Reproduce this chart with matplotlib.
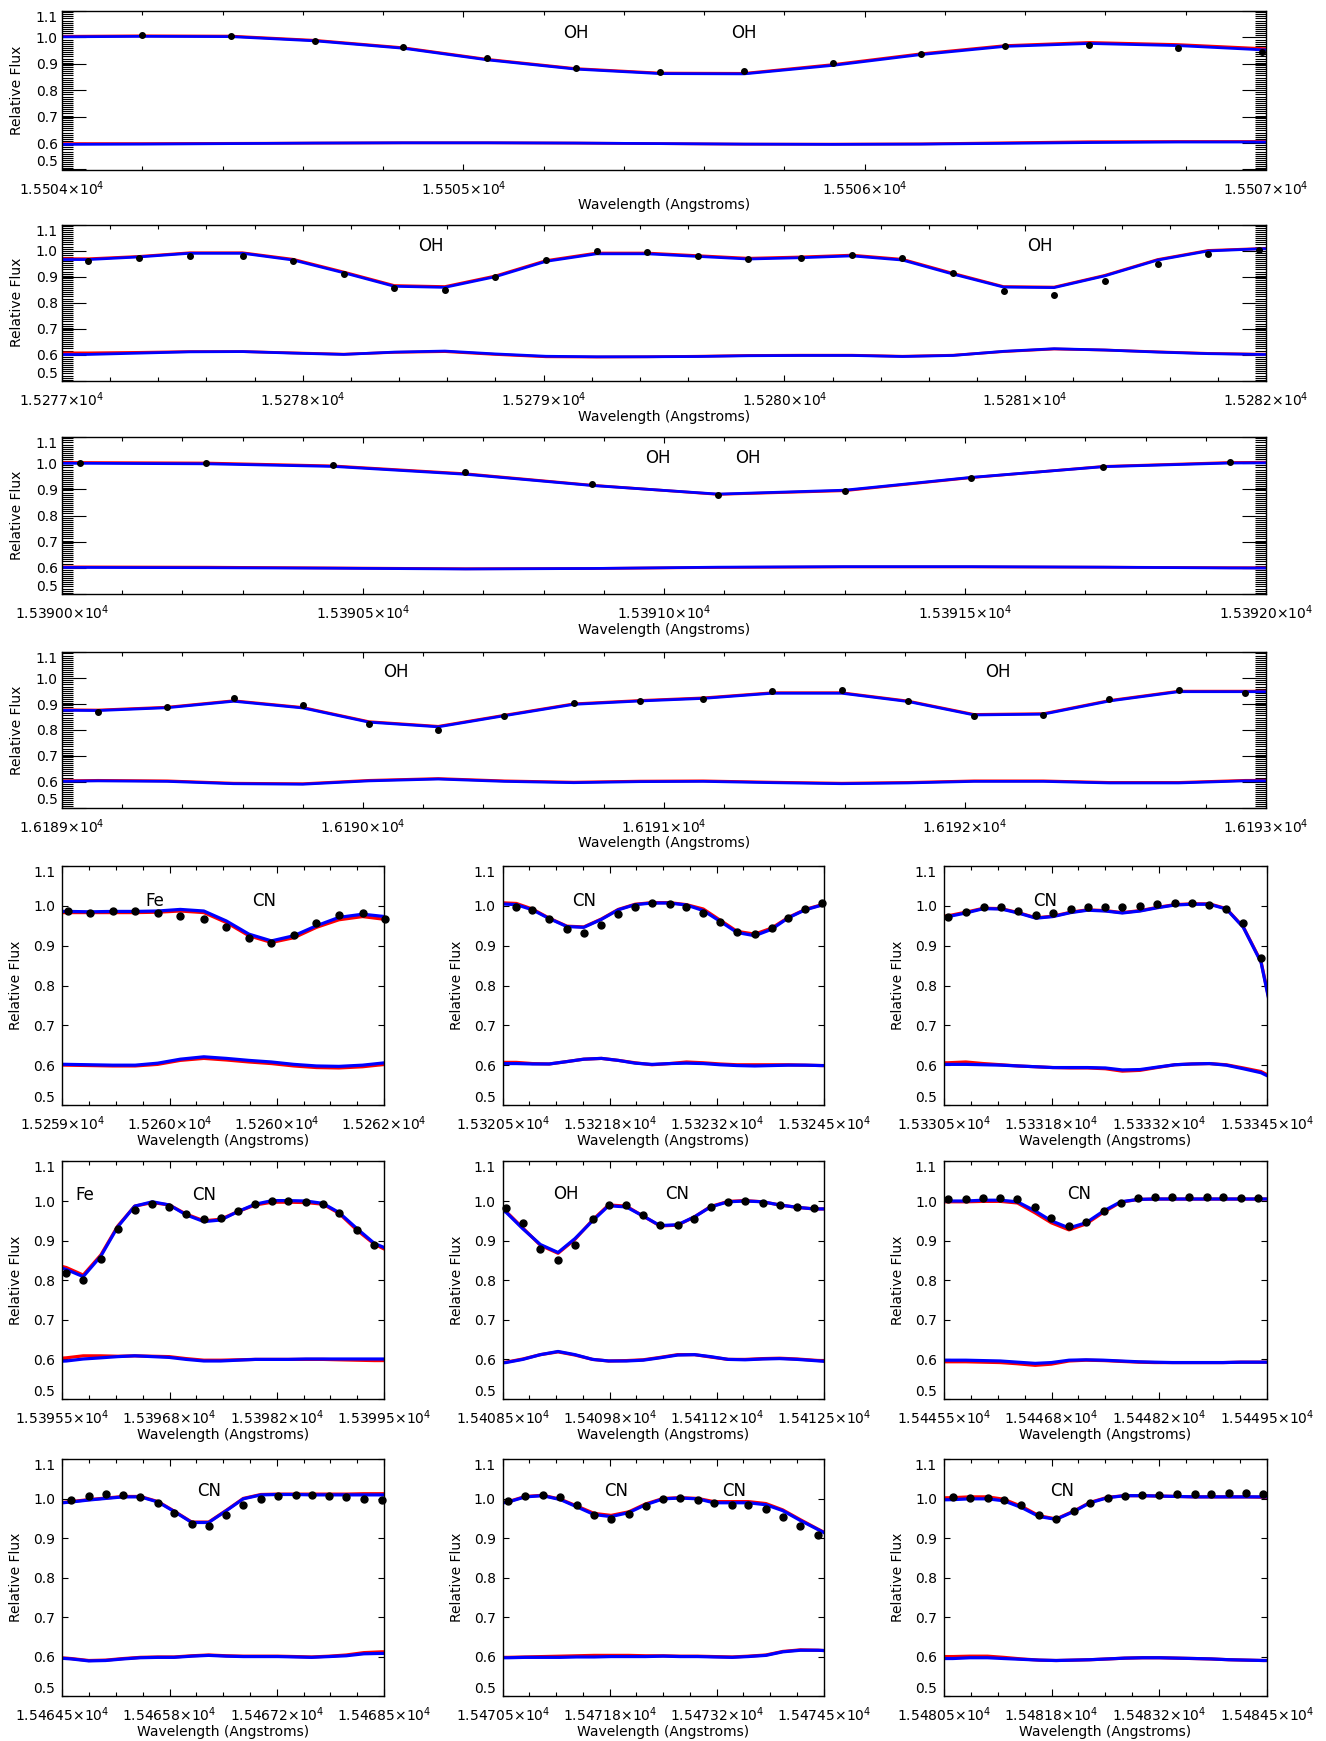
import numpy as np
import matplotlib
matplotlib.use('Agg')
from matplotlib import pyplot as plt
from matplotlib.ticker import MultipleLocator, AutoMinorLocator

plt.rcParams['font.family'] = ['DejaVu Sans']
plt.rcParams['font.size'] = 10
plt.rcParams['mathtext.fontset'] = 'dejavusans'

nan = np.nan
W, H = 1326, 1741

# ---------------- wide panels ----------------
w1_wl = [15503.98, 15504.20, 15504.42, 15504.63, 15504.85, 15505.06, 15505.28, 15505.49,
         15505.70, 15505.92, 15506.14, 15506.35, 15506.56, 15506.78, 15506.99, 15507.21]
w1_obs = [nan, 1.009, 1.004, 0.988, 0.962, 0.922, 0.884, 0.869, 0.874, 0.903, 0.939, 0.967,
          0.972, 0.960, 0.943, nan]
w1_red = [1.004, 1.006, 1.005, 0.989, 0.961, 0.917, 0.882, 0.865, 0.864, 0.897, 0.938, 0.969,
          0.981, 0.973, 0.958, 0.954]
w1_blue = [1.002, 1.004, 1.003, 0.987, 0.959, 0.915, 0.880, 0.863, 0.862, 0.894, 0.935, 0.966,
           0.977, 0.969, 0.953, 0.948]
w1_lo_red = [0.598, 0.598, 0.599, 0.600, 0.601, 0.601, 0.600, 0.598, 0.596, 0.596, 0.597, 0.601,
             0.605, 0.606, 0.606, 0.606]
w1_lo_blue = [0.595, 0.596, 0.598, 0.600, 0.601, 0.601, 0.600, 0.598, 0.596, 0.595, 0.596, 0.599,
              0.602, 0.604, 0.604, 0.604]

w2_wl = [15276.90, 15277.11, 15277.32, 15277.53, 15277.75, 15277.96, 15278.17, 15278.38, 15278.59,
         15278.80, 15279.01, 15279.22, 15279.43, 15279.64, 15279.85, 15280.07, 15280.28, 15280.49,
         15280.70, 15280.91, 15281.12, 15281.33, 15281.55, 15281.76, 15281.97, 15282.18]
w2_obs = [nan, 0.962, 0.973, 0.980, 0.978, 0.959, 0.911, 0.855, 0.847, 0.898, 0.964, 0.998, 0.996,
          0.981, 0.969, 0.973, 0.985, 0.971, 0.913, 0.845, 0.830, 0.883, 0.948, 0.988, 1.004, nan]
w2_red = [0.970, 0.969, 0.978, 0.992, 0.992, 0.967, 0.918, 0.866, 0.862, 0.903, 0.962, 0.991, 0.991,
          0.981, 0.971, 0.976, 0.983, 0.967, 0.913, 0.862, 0.860, 0.905, 0.966, 1.001, 1.008, 1.011]
w2_blue = [0.966, 0.966, 0.976, 0.990, 0.990, 0.964, 0.915, 0.863, 0.859, 0.900, 0.959, 0.988, 0.988,
           0.978, 0.968, 0.973, 0.980, 0.964, 0.910, 0.860, 0.858, 0.903, 0.964, 0.999, 1.007, 1.010]
w2_lo_red = [0.607, 0.607, 0.609, 0.612, 0.612, 0.607, 0.602, 0.609, 0.612, 0.601, 0.592, 0.591, 0.592,
             0.594, 0.597, 0.598, 0.598, 0.594, 0.598, 0.612, 0.622, 0.618, 0.611, 0.605, 0.602, 0.601]
w2_lo_blue = [0.600, 0.601, 0.606, 0.611, 0.612, 0.606, 0.601, 0.610, 0.614, 0.603, 0.594, 0.592, 0.592,
              0.593, 0.596, 0.597, 0.597, 0.593, 0.597, 0.613, 0.623, 0.618, 0.610, 0.604, 0.601, 0.600]

w3_wl = [15389.82, 15390.03, 15390.24, 15390.45, 15390.67, 15390.88, 15391.09, 15391.30,
         15391.51, 15391.73, 15391.94, 15392.15]
w3_obs = [nan, 1.000, 1.000, 0.995, 0.966, 0.920, 0.879, 0.893, 0.944, 0.987, 1.006, nan]
w3_red = [1.003, 1.003, 1.001, 0.990, 0.960, 0.916, 0.881, 0.895, 0.945, 0.988, 1.003, 1.006]
w3_blue = [1.000, 1.000, 0.998, 0.988, 0.958, 0.915, 0.882, 0.897, 0.946, 0.987, 1.001, 1.004]
w3_lo_red = [0.603, 0.603, 0.602, 0.599, 0.596, 0.597, 0.601, 0.603, 0.603, 0.602, 0.600, 0.599]
w3_lo_blue = [0.601, 0.601, 0.600, 0.598, 0.595, 0.597, 0.602, 0.604, 0.604, 0.602, 0.599, 0.598]

w4_wl = [16188.90, 16189.12, 16189.35, 16189.57, 16189.80, 16190.02, 16190.25, 16190.47, 16190.70,
         16190.92, 16191.13, 16191.36, 16191.59, 16191.81, 16192.03, 16192.26, 16192.48, 16192.71,
         16192.93, 16193.15]
w4_obs = [nan, 0.871, 0.889, 0.923, 0.897, 0.822, 0.800, 0.854, 0.906, 0.912, 0.920, 0.951, 0.954,
          0.912, 0.854, 0.858, 0.920, 0.956, 0.943, nan]
w4_red = [0.879, 0.877, 0.888, 0.913, 0.887, 0.832, 0.814, 0.857, 0.901, 0.914, 0.924, 0.944, 0.944,
          0.912, 0.860, 0.863, 0.914, 0.950, 0.950, 0.950]
w4_blue = [0.877, 0.875, 0.886, 0.911, 0.885, 0.830, 0.812, 0.855, 0.899, 0.912, 0.922, 0.942, 0.942,
           0.910, 0.858, 0.861, 0.912, 0.948, 0.948, 0.948]
w4_lo_red = [0.602, 0.605, 0.603, 0.594, 0.592, 0.605, 0.612, 0.603, 0.598, 0.602, 0.603, 0.598, 0.594,
             0.597, 0.603, 0.603, 0.597, 0.597, 0.605, 0.606]
w4_lo_blue = [0.600, 0.603, 0.601, 0.592, 0.590, 0.603, 0.610, 0.601, 0.596, 0.600, 0.601, 0.596, 0.592,
              0.595, 0.601, 0.601, 0.595, 0.595, 0.603, 0.604]

# ---------------- small panels ----------------
s1_wl = [15258.84, 15259.05, 15259.26, 15259.47, 15259.68, 15259.89, 15260.10, 15260.32, 15260.53,
         15260.74, 15260.95, 15261.16, 15261.37, 15261.58, 15261.80, 15262.01]
s1_obs = [nan, 0.986, 0.983, 0.986, 0.986, 0.981, 0.975, 0.966, 0.946, 0.918, 0.906, 0.926, 0.958,
          0.978, 0.982, 0.966]
s1_red = [0.983, 0.983, 0.983, 0.983, 0.983, 0.984, 0.987, 0.983, 0.958, 0.925, 0.908, 0.920, 0.946,
          0.965, 0.973, 0.966]
s1_blue = [0.986, 0.986, 0.985, 0.986, 0.986, 0.987, 0.991, 0.987, 0.962, 0.929, 0.912, 0.925, 0.950,
           0.971, 0.979, 0.973]
s1_lo_red = [0.601, 0.600, 0.599, 0.598, 0.598, 0.602, 0.612, 0.617, 0.613, 0.608, 0.604, 0.598, 0.594,
             0.593, 0.596, 0.602]
s1_lo_blue = [0.603, 0.602, 0.601, 0.600, 0.600, 0.605, 0.615, 0.621, 0.617, 0.612, 0.608, 0.602, 0.598,
              0.597, 0.600, 0.606]

s2_wl = [15320.45, 15320.67, 15320.87, 15321.08, 15321.30, 15321.51, 15321.73, 15321.94, 15322.15,
         15322.36, 15322.58, 15322.79, 15323.00, 15323.21, 15323.42, 15323.64, 15323.85, 15324.06,
         15324.27, 15324.48, 15324.70]
s2_obs = [nan, 0.998, 0.989, 0.968, 0.941, 0.933, 0.951, 0.979, 0.998, 1.008, 1.005, 0.997, 0.983,
          0.960, 0.935, 0.930, 0.944, 0.970, 0.993, 1.007, nan]
s2_red = [1.008, 1.006, 0.992, 0.969, 0.949, 0.947, 0.967, 0.991, 1.004, 1.008, 1.008, 1.003, 0.992,
          0.964, 0.936, 0.929, 0.944, 0.971, 0.991, 1.003, 1.009]
s2_blue = [1.005, 1.003, 0.990, 0.968, 0.948, 0.946, 0.966, 0.990, 1.003, 1.007, 1.007, 1.002, 0.988,
           0.961, 0.933, 0.925, 0.941, 0.970, 0.990, 1.002, 1.008]
s2_lo_red = [0.607, 0.607, 0.604, 0.603, 0.609, 0.615, 0.617, 0.612, 0.606, 0.601, 0.604, 0.608, 0.606,
             0.603, 0.601, 0.601, 0.601, 0.601, 0.600, 0.599, 0.599]
s2_lo_blue = [0.604, 0.604, 0.603, 0.603, 0.609, 0.615, 0.617, 0.612, 0.605, 0.602, 0.604, 0.605, 0.604,
              0.601, 0.599, 0.598, 0.599, 0.600, 0.600, 0.599, 0.599]

s3_wl = [15330.34, 15330.55, 15330.77, 15330.99, 15331.21, 15331.42, 15331.64, 15331.85, 15332.07,
         15332.28, 15332.50, 15332.71, 15332.93, 15333.14, 15333.36, 15333.57, 15333.79, 15334.00,
         15334.21, 15334.43, 15334.64]
s3_obs = [nan, 0.972, 0.985, 0.997, 0.997, 0.986, 0.977, 0.982, 0.993, 0.997, 0.997, 0.997, 1.000,
          1.004, 1.006, 1.006, 1.003, 0.993, 0.958, 0.868, nan]
s3_red = [0.972, 0.975, 0.984, 0.994, 0.993, 0.983, 0.970, 0.974, 0.984, 0.990, 0.988, 0.983, 0.988,
          0.996, 1.003, 1.005, 1.005, 0.993, 0.947, 0.860, 0.660]
s3_blue = [0.970, 0.973, 0.982, 0.993, 0.992, 0.982, 0.969, 0.973, 0.983, 0.989, 0.987, 0.982, 0.987,
           0.995, 1.002, 1.004, 1.004, 0.992, 0.946, 0.858, 0.654]
s3_lo_red = [0.606, 0.606, 0.608, 0.604, 0.601, 0.598, 0.596, 0.594, 0.593, 0.593, 0.591, 0.585, 0.587,
             0.594, 0.601, 0.603, 0.604, 0.601, 0.593, 0.584, 0.562]
s3_lo_blue = [0.602, 0.602, 0.602, 0.601, 0.600, 0.598, 0.596, 0.594, 0.594, 0.594, 0.593, 0.588, 0.589,
              0.595, 0.601, 0.603, 0.604, 0.600, 0.591, 0.581, 0.560]

s4_wl = [15395.34, 15395.55, 15395.76, 15395.98, 15396.19, 15396.40, 15396.62, 15396.83, 15397.04,
         15397.26, 15397.47, 15397.68, 15397.90, 15398.11, 15398.31, 15398.53, 15398.74, 15398.94,
         15399.16, 15399.38, 15399.59]
s4_obs = [nan, 0.819, 0.801, 0.853, 0.929, 0.977, 0.992, 0.984, 0.967, 0.954, 0.956, 0.976, 0.992,
          1.001, 1.001, 0.998, 0.992, 0.969, 0.927, 0.889, nan]
s4_red = [0.843, 0.832, 0.813, 0.864, 0.937, 0.987, 0.996, 0.990, 0.967, 0.950, 0.954, 0.973, 0.990,
          0.997, 0.997, 0.996, 0.992, 0.969, 0.927, 0.891, 0.870]
s4_blue = [0.840, 0.827, 0.809, 0.861, 0.935, 0.987, 0.998, 0.990, 0.965, 0.948, 0.952, 0.973, 0.992,
           1.001, 1.001, 1.000, 0.994, 0.971, 0.931, 0.893, 0.875]
s4_lo_red = [0.601, 0.604, 0.609, 0.609, 0.608, 0.609, 0.608, 0.607, 0.602, 0.598, 0.598, 0.599, 0.600,
             0.600, 0.600, 0.600, 0.600, 0.599, 0.598, 0.597, 0.597]
s4_lo_blue = [0.594, 0.596, 0.601, 0.604, 0.607, 0.609, 0.607, 0.605, 0.600, 0.596, 0.596, 0.598, 0.600,
              0.600, 0.600, 0.601, 0.601, 0.601, 0.601, 0.601, 0.601]

s5_wl = [15408.33, 15408.54, 15408.75, 15408.97, 15409.19, 15409.40, 15409.62, 15409.82, 15410.04,
         15410.25, 15410.46, 15410.68, 15410.89, 15411.09, 15411.31, 15411.52, 15411.74, 15411.95,
         15412.17, 15412.38, 15412.59]
s5_obs = [nan, 0.983, 0.945, 0.880, 0.850, 0.890, 0.955, 0.990, 0.990, 0.965, 0.940, 0.940, 0.955,
          0.985, 0.998, 1.000, 0.995, 0.990, 0.985, 0.983, nan]
s5_red = [0.987, 0.974, 0.932, 0.888, 0.868, 0.903, 0.952, 0.990, 0.987, 0.962, 0.937, 0.939, 0.960,
          0.986, 0.999, 1.001, 0.998, 0.990, 0.984, 0.980, 0.980]
s5_blue = [0.985, 0.972, 0.930, 0.890, 0.870, 0.905, 0.950, 0.988, 0.985, 0.962, 0.938, 0.940, 0.960,
           0.985, 0.998, 1.000, 0.998, 0.990, 0.984, 0.980, 0.980]
s5_lo_red = [0.589, 0.593, 0.601, 0.612, 0.619, 0.611, 0.600, 0.596, 0.597, 0.599, 0.605, 0.612, 0.612,
             0.606, 0.600, 0.600, 0.602, 0.603, 0.601, 0.598, 0.595]
s5_lo_blue = [0.588, 0.592, 0.600, 0.612, 0.620, 0.612, 0.600, 0.596, 0.596, 0.598, 0.604, 0.611, 0.612,
              0.607, 0.600, 0.599, 0.601, 0.602, 0.600, 0.597, 0.594]

s6_wl = [15445.34, 15445.55, 15445.77, 15445.98, 15446.20, 15446.41, 15446.63, 15446.83, 15447.05,
         15447.26, 15447.48, 15447.69, 15447.91, 15448.11, 15448.33, 15448.54, 15448.76, 15448.96,
         15449.18, 15449.39, 15449.60]
s6_obs = [nan, 1.005, 1.006, 1.008, 1.008, 1.005, 0.985, 0.957, 0.937, 0.948, 0.976, 0.996, 1.008,
          1.010, 1.010, 1.010, 1.010, 1.010, 1.008, 1.008, nan]
s6_red = [0.997, 0.998, 0.998, 0.999, 0.999, 0.995, 0.970, 0.945, 0.927, 0.942, 0.972, 0.997, 1.004,
          1.005, 1.005, 1.005, 1.005, 1.005, 1.005, 1.005, 1.005]
s6_blue = [1.000, 1.000, 1.000, 1.002, 1.002, 0.998, 0.975, 0.950, 0.932, 0.945, 0.975, 0.998, 1.004,
           1.005, 1.005, 1.005, 1.005, 1.005, 1.005, 1.005, 1.005]
s6_lo_red = [0.594, 0.594, 0.594, 0.593, 0.592, 0.589, 0.585, 0.588, 0.596, 0.598, 0.597, 0.595, 0.593,
             0.592, 0.592, 0.592, 0.592, 0.592, 0.593, 0.593, 0.593]
s6_lo_blue = [0.598, 0.598, 0.598, 0.597, 0.596, 0.593, 0.590, 0.592, 0.598, 0.599, 0.598, 0.596, 0.594,
              0.593, 0.592, 0.592, 0.592, 0.592, 0.593, 0.593, 0.593]

s7_wl = [15464.40, 15464.61, 15464.83, 15465.04, 15465.26, 15465.47, 15465.69, 15465.89, 15466.11,
         15466.32, 15466.54, 15466.75, 15466.97, 15467.18, 15467.40, 15467.60, 15467.82, 15468.03,
         15468.25, 15468.47, 15468.68]
s7_obs = [nan, 0.998, 1.008, 1.012, 1.010, 1.005, 0.990, 0.965, 0.935, 0.932, 0.958, 0.985, 1.000,
          1.006, 1.010, 1.010, 1.008, 1.005, 1.000, 0.996, nan]
s7_red = [0.989, 0.993, 0.998, 1.002, 1.006, 1.006, 0.993, 0.969, 0.941, 0.941, 0.971, 1.001, 1.011,
          1.012, 1.012, 1.012, 1.012, 1.012, 1.013, 1.013, 1.013]
s7_blue = [0.988, 0.992, 0.997, 1.001, 1.005, 1.005, 0.992, 0.968, 0.940, 0.940, 0.970, 1.000, 1.010,
           1.011, 1.011, 1.010, 1.010, 1.010, 1.010, 1.010, 1.010]
s7_lo_red = [0.598, 0.595, 0.590, 0.591, 0.595, 0.598, 0.599, 0.599, 0.602, 0.604, 0.602, 0.601, 0.601,
             0.601, 0.600, 0.599, 0.601, 0.604, 0.610, 0.612, 0.612]
s7_lo_blue = [0.597, 0.594, 0.589, 0.590, 0.594, 0.597, 0.598, 0.598, 0.601, 0.603, 0.601, 0.600, 0.600,
              0.600, 0.599, 0.598, 0.600, 0.602, 0.607, 0.608, 0.608]

s8_wl = [15470.36, 15470.57, 15470.78, 15471.00, 15471.22, 15471.42, 15471.64, 15471.85, 15472.07,
         15472.28, 15472.50, 15472.71, 15472.93, 15473.13, 15473.36, 15473.56, 15473.78, 15473.99,
         15474.21, 15474.43, 15474.64]
s8_obs = [nan, 0.995, 1.008, 1.010, 1.005, 0.985, 0.960, 0.948, 0.962, 0.983, 1.000, 1.003, 0.998,
          0.990, 0.985, 0.985, 0.975, 0.955, 0.930, 0.908, nan]
s8_red = [0.986, 0.993, 1.006, 1.009, 0.999, 0.982, 0.963, 0.958, 0.967, 0.987, 1.001, 1.003, 1.001,
          0.993, 0.993, 0.993, 0.988, 0.972, 0.947, 0.923, 0.901]
s8_blue = [0.985, 0.992, 1.005, 1.008, 0.998, 0.980, 0.960, 0.955, 0.965, 0.985, 1.000, 1.002, 1.000,
           0.990, 0.990, 0.990, 0.985, 0.970, 0.945, 0.922, 0.900]
s8_lo_red = [0.598, 0.598, 0.599, 0.600, 0.601, 0.602, 0.603, 0.603, 0.603, 0.602, 0.602, 0.601, 0.601,
             0.600, 0.599, 0.601, 0.604, 0.613, 0.617, 0.616, 0.614]
s8_lo_blue = [0.597, 0.597, 0.598, 0.598, 0.598, 0.599, 0.599, 0.600, 0.600, 0.600, 0.601, 0.600, 0.600,
              0.599, 0.598, 0.600, 0.603, 0.612, 0.616, 0.616, 0.614]

s9_wl = [15480.40, 15480.61, 15480.82, 15481.04, 15481.24, 15481.46, 15481.68, 15481.89, 15482.11,
         15482.31, 15482.53, 15482.74, 15482.96, 15483.17, 15483.39, 15483.61, 15483.81, 15484.03,
         15484.24, 15484.46, 15484.67]
s9_obs = [nan, 1.005, 1.003, 1.003, 0.998, 0.985, 0.958, 0.948, 0.968, 0.990, 1.003, 1.008, 1.010,
          1.010, 1.012, 1.013, 1.013, 1.015, 1.015, 1.012, nan]
s9_red = [1.002, 1.003, 1.005, 1.005, 0.999, 0.981, 0.957, 0.949, 0.969, 0.991, 1.004, 1.008, 1.008,
          1.007, 1.006, 1.005, 1.005, 1.005, 1.005, 1.004, 1.004]
s9_blue = [0.997, 0.998, 1.000, 1.000, 0.995, 0.978, 0.955, 0.948, 0.968, 0.990, 1.003, 1.008, 1.008,
           1.007, 1.006, 1.005, 1.005, 1.005, 1.005, 1.005, 1.005]
s9_lo_red = [0.600, 0.600, 0.601, 0.601, 0.598, 0.594, 0.591, 0.590, 0.591, 0.592, 0.594, 0.596, 0.597,
             0.597, 0.596, 0.595, 0.594, 0.592, 0.591, 0.590, 0.590]
s9_lo_blue = [0.595, 0.595, 0.597, 0.597, 0.595, 0.593, 0.591, 0.590, 0.591, 0.592, 0.594, 0.596, 0.597,
              0.597, 0.596, 0.595, 0.594, 0.592, 0.591, 0.590, 0.590]

# axis ranges, tick mantissas (labels are mantissa x10^4) and feature labels
wide = [
    (w1_wl, w1_obs, w1_red, w1_blue, w1_lo_red, w1_lo_blue, (15504, 15507),
     ['1.5504', '1.5505', '1.5506', '1.5507'], [('OH', 15505.28, 1.015), ('OH', 15505.70, 1.015)]),
    (w2_wl, w2_obs, w2_red, w2_blue, w2_lo_red, w2_lo_blue, (15277, 15282),
     ['1.5277', '1.5278', '1.5279', '1.5280', '1.5281', '1.5282'],
     [('OH', 15278.53, 1.017), ('OH', 15281.06, 1.017)]),
    (w3_wl, w3_obs, w3_red, w3_blue, w3_lo_red, w3_lo_blue, (15390, 15392),
     ['1.53900', '1.53905', '1.53910', '1.53915', '1.53920'],
     [('OH', 15390.99, 1.019), ('OH', 15391.14, 1.019)]),
    (w4_wl, w4_obs, w4_red, w4_blue, w4_lo_red, w4_lo_blue, (16189, 16193),
     ['1.6189', '1.6190', '1.6191', '1.6192', '1.6193'],
     [('OH', 16190.11, 1.023), ('OH', 16192.11, 1.023)]),
]
small = [
    (s1_wl, s1_obs, s1_red, s1_blue, s1_lo_red, s1_lo_blue, (15259, 15262),
     ['1.5259', '1.5260', '1.5260', '1.5262'], [('Fe', 15259.86, 1.013), ('CN', 15260.88, 1.013)]),
    (s2_wl, s2_obs, s2_red, s2_blue, s2_lo_red, s2_lo_blue, (15320.5, 15324.5),
     ['1.53205', '1.53218', '1.53232', '1.53245'], [('CN', 15321.52, 1.013)]),
    (s3_wl, s3_obs, s3_red, s3_blue, s3_lo_red, s3_lo_blue, (15330.5, 15334.5),
     ['1.53305', '1.53318', '1.53332', '1.53345'], [('CN', 15331.75, 1.013)]),
    (s4_wl, s4_obs, s4_red, s4_blue, s4_lo_red, s4_lo_blue, (15395.5, 15399.5),
     ['1.53955', '1.53968', '1.53982', '1.53995'], [('Fe', 15395.78, 1.015), ('CN', 15397.26, 1.015)]),
    (s5_wl, s5_obs, s5_red, s5_blue, s5_lo_red, s5_lo_blue, (15408.5, 15412.5),
     ['1.54085', '1.54098', '1.54112', '1.54125'], [('OH', 15409.29, 1.018), ('CN', 15410.67, 1.018)]),
    (s6_wl, s6_obs, s6_red, s6_blue, s6_lo_red, s6_lo_blue, (15445.5, 15449.5),
     ['1.54455', '1.54468', '1.54482', '1.54495'], [('CN', 15447.18, 1.018)]),
    (s7_wl, s7_obs, s7_red, s7_blue, s7_lo_red, s7_lo_blue, (15464.5, 15468.5),
     ['1.54645', '1.54658', '1.54672', '1.54685'], [('CN', 15466.32, 1.021)]),
    (s8_wl, s8_obs, s8_red, s8_blue, s8_lo_red, s8_lo_blue, (15470.5, 15474.5),
     ['1.54705', '1.54718', '1.54732', '1.54745'], [('CN', 15471.91, 1.021), ('CN', 15473.38, 1.021)]),
    (s9_wl, s9_obs, s9_red, s9_blue, s9_lo_red, s9_lo_blue, (15480.5, 15484.5),
     ['1.54805', '1.54818', '1.54832', '1.54845'], [('CN', 15481.96, 1.021)]),
]
ytick_vals = [0.5, 0.6, 0.7, 0.8, 0.9, 1.0, 1.1]
ytick_txt = ['0.5', '0.6', '0.7', '0.8', '0.9', '1.0', '1.1']

# panel boxes in pixels (left, top, right, bottom)
wide_boxes = [(62, 11, 1266, 169.5), (62, 224.7, 1266, 380.7),
              (62, 437.2, 1266, 593.8), (62, 652.4, 1266, 807.5)]
cols = [(62.3, 384), (502.7, 823.7), (944, 1266.7)]
rows = [(866, 1105), (1161.4, 1399), (1459.4, 1696)]

fig = plt.figure(figsize=(W / 100, H / 100), dpi=100)


def make_axes(left, top, right, bottom):
    return fig.add_axes([left / W, 1 - bottom / H, (right - left) / W, (bottom - top) / H])


def draw(ax, panel, lw, ms, nx):
    wl, obs, red, blue, lo_red, lo_blue, xr, mants, feats = panel
    ax.plot(wl, red, color='red', lw=lw, zorder=2)
    ax.plot(wl, blue, color='blue', lw=lw, zorder=2.1)
    ax.plot(wl, lo_red, color='red', lw=lw, zorder=2)
    ax.plot(wl, lo_blue, color='blue', lw=lw, zorder=2.1)
    ax.plot(wl, obs, 'o', color='black', ms=ms, zorder=3, clip_on=False)
    ax.set_xlim(xr)
    ax.set_ylim(0.5, 1.1)
    ax.set_xticks(np.linspace(xr[0], xr[1], nx))
    ax.set_xticklabels([m + '×10$^{4}$' for m in mants])
    ax.set_yticks(ytick_vals)
    ax.set_yticklabels(ytick_txt)
    # IDL puts the end labels just inside the axis range
    ylabs = ax.get_yticklabels()
    ylabs[0].set_va('bottom')
    ylabs[-1].set_va('top')
    for name, x, y in feats:
        ax.text(x, y, name, ha='center', va='center', fontsize=12)
    ax.set_xlabel('Wavelength (Angstroms)')
    ax.set_ylabel('Relative Flux')
    for s in ax.spines.values():
        s.set_linewidth(1.0)
    ax.tick_params(axis='both', which='both', direction='in', top=True, right=True,
                   width=0.8, labelsize=10)


for panel, bx in zip(wide, wide_boxes):
    ax = make_axes(*bx)
    draw(ax, panel, 2.0, 4.0, len(panel[7]))
    ax.xaxis.set_minor_locator(AutoMinorLocator(5))
    ax.yaxis.set_minor_locator(MultipleLocator(0.008))
    ax.tick_params(axis='x', which='major', length=4.5, pad=7)
    ax.tick_params(axis='x', which='minor', length=3)
    ax.tick_params(axis='y', which='major', length=17, pad=3)
    ax.tick_params(axis='y', which='minor', length=8)
    wpx = bx[2] - bx[0]
    hpx = bx[3] - bx[1]
    ax.yaxis.set_label_coords(-38 / wpx, 0.5)
    ax.xaxis.set_label_coords(0.5, -29 / hpx)

for i, panel in enumerate(small):
    c = cols[i % 3]
    r = rows[i // 3]
    ax = make_axes(c[0], r[0], c[1], r[1])
    draw(ax, panel, 2.3, 5.0, 4)
    ax.xaxis.set_minor_locator(AutoMinorLocator(4))
    ax.tick_params(axis='x', which='major', length=5, pad=7)
    ax.tick_params(axis='x', which='minor', length=3)
    ax.tick_params(axis='y', which='major', length=4.5, pad=5)
    ax.yaxis.set_label_coords(-39 / (c[1] - c[0]), 0.5)
    ax.xaxis.set_label_coords(0.5, -29 / (r[1] - r[0]))

fig.savefig('out.png', dpi=100, facecolor='white')
